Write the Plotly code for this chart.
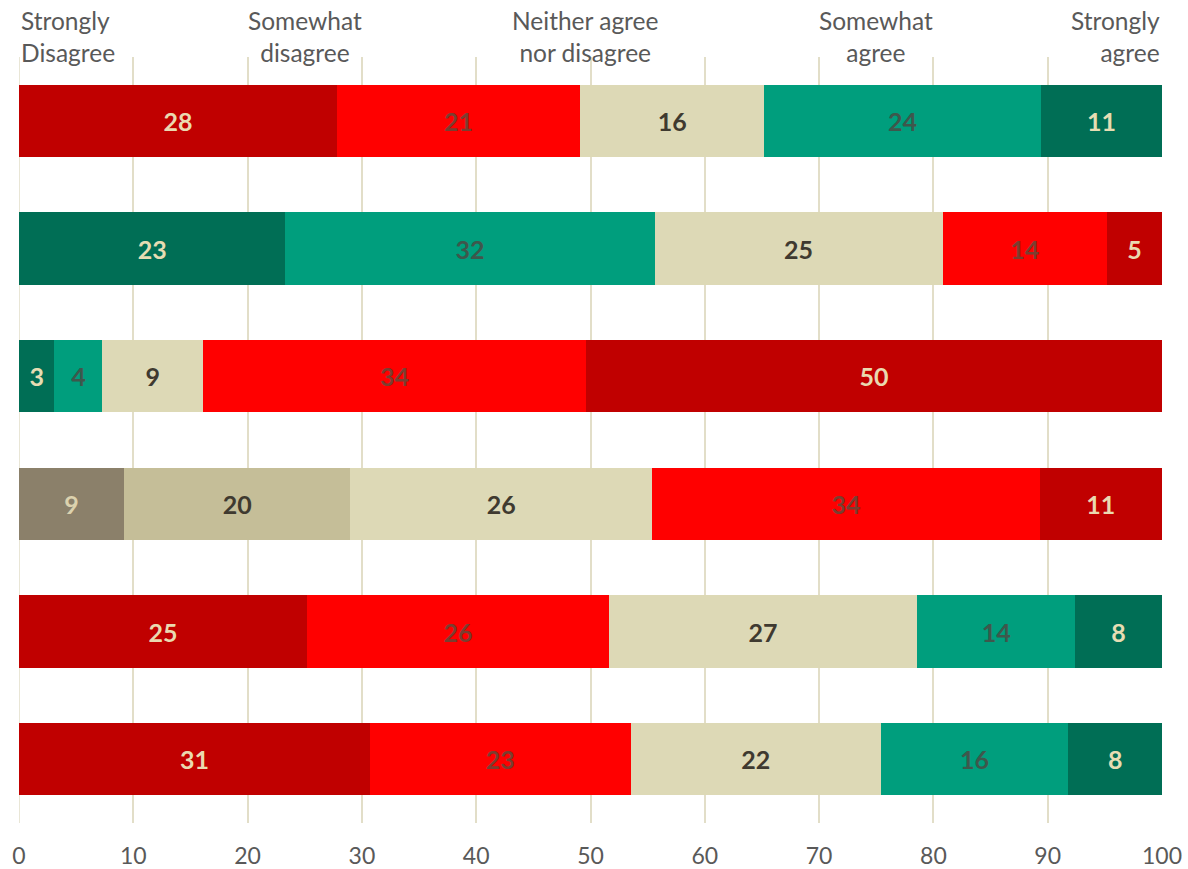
import plotly.graph_objects as go

# ---- data ----
rows = ["Q1", "Q2", "Q3", "Q4", "Q5", "Q6"]
seg1 = [27.8, 23.3, 3.1, 9.2, 25.2, 30.7]
seg2 = [21.3, 32.3, 4.2, 19.8, 26.4, 22.8]
seg3 = [16.1, 25.2, 8.8, 26.4, 27.0, 21.9]
seg4 = [24.2, 14.4, 33.5, 33.9, 13.8, 16.4]
seg5 = [10.6, 4.8, 50.4, 10.7, 7.6, 8.2]
headers = ["Strongly<br>Disagree", "Somewhat<br>disagree", "Neither agree<br>nor disagree",
           "Somewhat<br>agree", "Strongly<br>agree"]
header_x = [0, 25, 49.5, 75, 100]
tick_vals = [0, 10, 20, 30, 40, 50, 60, 70, 80, 90, 100]

# ---- style ----
DR, R, BE, TE, DG, GB, TA = "#C00000", "#FF0000", "#DDD9B6", "#009E7D", "#006E55", "#8B806A", "#C5BE98"
txt = {DR: "#EAD9B0", R: "#7A3E30", BE: "#3F3A30", TE: "#3E574C", DG: "#E6DDB3", GB: "#DCD2AE", TA: "#3F3A30"}
palettes = [
    [DR, R, BE, TE, DG],
    [DG, TE, BE, R, DR],
    [DG, TE, BE, R, DR],
    [GB, TA, BE, R, DR],
    [DR, R, BE, TE, DG],
    [DR, R, BE, TE, DG],
]

fig = go.Figure()
for i, seg in enumerate([seg1, seg2, seg3, seg4, seg5]):
    cols = [p[i] for p in palettes]
    fig.add_trace(go.Bar(
        y=rows, x=seg, orientation="h",
        marker=dict(color=cols, line=dict(width=0)),
        texttemplate="%{x:.0f}", textposition="inside", insidetextanchor="middle",
        textangle=0, constraintext="none",
        textfont=dict(family="Lato", size=25, color=[txt[c] for c in cols], weight="bold"),
        showlegend=False, hoverinfo="skip",
    ))

anchors = ["left", "center", "center", "center", "right"]
for h, hx, a in zip(headers, header_x, anchors):
    fig.add_annotation(x=hx, y=1.027, xref="x", yref="paper", text=h, showarrow=False,
                       xanchor=a, yanchor="middle", align=a,
                       font=dict(family="Lato", size=24.5, color="#595959"))

fig.update_layout(
    barmode="stack", bargap=0.435,
    width=1188, height=869,
    margin=dict(l=19, r=26, t=57, b=46, autoexpand=False),
    plot_bgcolor="white", paper_bgcolor="white",
    xaxis=dict(range=[0, 100], tickvals=tick_vals, showgrid=True, gridcolor="#E2DEC8", gridwidth=1.5,
               zeroline=False, showline=False, ticks="", ticklabelstandoff=17,
               tickfont=dict(family="Lato", size=23, color="#595959")),
    yaxis=dict(autorange="reversed", showticklabels=False, showgrid=False, zeroline=False, showline=False),
)
fig.add_shape(type="line", x0=0, x1=0, y0=0, y1=1, xref="x", yref="paper",
              line=dict(color="#E2DEC8", width=1.5), layer="below")
fig.write_html("out.html", config={"displayModeBar": False},
               post_script="document.body.style.margin='0';document.body.style.overflow='hidden';")
